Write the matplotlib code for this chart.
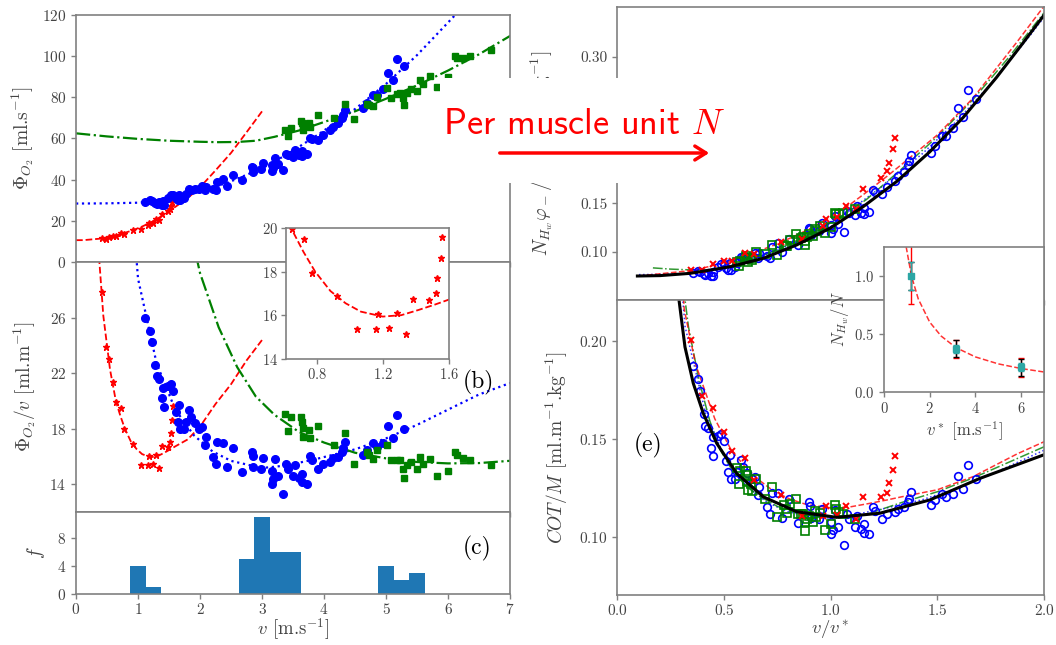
import numpy as np
import matplotlib
matplotlib.use("Agg")
import matplotlib.pyplot as plt
from matplotlib.patches import Rectangle, FancyArrowPatch

plt.rcParams.update({
    "font.family": "serif",
    "font.serif": ["cmr10"],
    "mathtext.fontset": "cm",
    "axes.formatter.use_mathtext": True,
    "axes.unicode_minus": False,
})

# ---------------- data ----------------
# measured points, cost per distance Phi_O2/v [ml.m-1] against speed v [m.s-1]
red_v = np.array([0.414, 0.478, 0.538, 0.602, 0.644, 0.718, 0.767, 0.921, 1.04, 1.157,
                  1.171, 1.238, 1.286, 1.34, 1.383, 1.481, 1.518, 1.526, 1.551, 1.559])
red_cot = np.array([27.86, 23.88, 23.0, 21.33, 19.95, 19.51, 17.95, 16.87, 15.39, 15.39,
                    16.06, 15.44, 16.09, 15.14, 16.73, 16.70, 17.02, 17.70, 18.64, 19.60])

blue_v = np.array([1.113, 1.194, 1.221, 1.274, 1.301, 1.344, 1.409, 1.382, 1.419, 1.489,
                   1.527, 1.570, 1.608, 1.661, 1.640, 1.677, 1.742, 1.774, 1.823, 1.855,
                   1.919, 1.984, 2.027, 2.097, 2.075, 2.215, 2.253, 2.279, 2.376, 2.430,
                   2.537, 2.672, 2.834, 2.850, 2.860, 2.984, 3.021, 3.156, 3.210, 3.156,
                   3.183, 3.263, 3.344, 3.387, 3.425, 3.537, 3.505, 3.597, 3.640, 3.721,
                   3.640, 3.774, 3.801, 3.909, 3.978, 4.097, 4.150, 4.231, 4.285, 4.339,
                   4.312, 4.634, 4.688, 4.796, 4.850, 4.957, 5.027, 5.108, 5.183, 5.296])
blue_cot = np.array([25.98, 25.06, 24.24, 22.60, 21.76, 21.59, 20.96, 20.20, 19.59, 21.04,
                     21.20, 20.68, 19.23, 19.71, 18.50, 17.98, 17.98, 18.50, 19.35, 18.87,
                     18.39, 17.98, 18.14, 17.42, 16.82, 15.97, 15.49, 17.01, 16.99, 15.25,
                     16.58, 14.89, 16.34, 16.05, 15.25, 15.13, 15.86, 14.94, 15.81, 14.05,
                     14.36, 14.60, 13.33, 15.49, 15.13, 15.37, 14.60, 14.46, 14.77, 14.05,
                     14.17, 16.02, 15.74, 15.13, 15.49, 15.61, 15.86, 15.97, 16.34, 17.06,
                     16.58, 16.14, 16.46, 16.94, 16.70, 16.94, 18.22, 17.30, 18.99, 17.98])

green_v = np.array([3.371, 3.462, 3.629, 3.640, 3.656, 3.425, 3.667, 3.774, 3.763, 3.909,
                    4.166, 4.339, 4.484, 4.688, 4.731, 4.785, 4.860, 5.011, 5.075, 5.172,
                    5.226, 5.269, 5.290, 5.344, 5.398, 5.505, 5.548, 5.592, 5.710, 5.828,
                    6.005, 6.113, 6.150, 6.247, 6.355, 6.688])
green_cot = np.array([19.04, 18.82, 18.82, 18.50, 18.07, 17.85, 17.42, 17.35, 17.90, 18.22,
                      16.82, 17.66, 15.49, 16.34, 16.10, 15.81, 16.46, 16.82, 15.74, 15.74,
                      15.74, 15.13, 14.46, 15.37, 15.61, 15.13, 15.97, 15.49, 15.81, 14.60,
                      14.97, 16.34, 16.10, 15.86, 15.74, 15.37])

# fitted curves, oxygen uptake Phi_O2 [ml.s-1] against v
red_fit_v = np.array([0.0, 0.12, 0.376, 0.44, 0.548, 0.644, 0.716, 0.787, 0.88, 0.972, 1.065,
                      1.198, 1.31, 1.413, 1.516, 1.602, 1.8, 2.0, 2.25, 2.5, 2.75, 3.02])
red_fit_phi = np.array([10.6, 10.62, 11.3, 11.5, 12.2, 12.85, 13.54, 14.17, 15.06, 16.09, 17.22,
                        19.10, 20.97, 22.95, 25.01, 26.8, 31.0, 36.3, 44.5, 53.0, 63.0, 74.0])
blue_fit_v = np.array([0.0, 0.32, 0.5, 1.0, 1.3, 1.6, 1.9, 2.2, 2.5, 3.0, 3.4, 3.9,
                       4.5, 5.0, 5.5, 6.1, 6.5, 7.0])
blue_fit_phi = np.array([28.4, 28.45, 28.5, 28.8, 29.5, 31.0, 33.3, 36.0, 39.2, 45.5, 52.2, 61.8,
                         74.3, 86.5, 100.5, 119.5, 133.0, 149.0])
green_fit_v = np.array([0.0, 0.5, 1.0, 1.5, 2.0, 2.3, 2.6, 2.9, 3.2, 3.6, 4.0, 4.5, 5.0,
                        5.5, 6.0, 6.5, 7.0, 8.0, 9.0, 10.0, 11.0, 12.0])
green_fit_phi = np.array([62.5, 61.0, 59.8, 58.9, 58.4, 58.2, 58.3, 58.9, 60.8, 63.9, 68.0, 73.2,
                          79.3, 85.8, 93.0, 100.9, 109.8, 132.4, 155.9, 183.1, 213.8, 246.7])

# histogram (c)
hist_left = [0.875, 1.125, 2.625, 2.875, 3.125, 3.375, 4.875, 5.125, 5.375]
hist_count = [4, 1, 5, 11, 6, 6, 4, 2, 3]

# per-muscle-unit scaling: optimal speed v*, factor for COT/M, factor for N phi/l
vstar = {"red": 1.2, "blue": 3.15, "green": 6.0}
k_cot = {"red": 0.0072, "blue": 0.0072, "green": 0.0071}
k_top = {"red": 0.0071, "blue": 0.0027, "green": 0.0014}

# master curve (black) in the two right panels
master_top_x = [0.094, 0.20, 0.34, 0.528, 0.684, 0.84, 0.996, 1.152, 1.308, 1.465, 1.621, 1.777, 1.9, 2.0]
master_top_y = [0.0754, 0.0758, 0.0781, 0.0849, 0.0935, 0.1072, 0.1243, 0.1465, 0.1721, 0.2029,
                0.238, 0.279, 0.314, 0.343]
master_cot_x = [0.275, 0.289, 0.317, 0.356, 0.403, 0.466, 0.559, 0.684, 0.84, 1.028, 1.23, 1.465, 1.699, 1.995]
master_cot_y = [0.233, 0.221, 0.197, 0.1784, 0.163, 0.1477, 0.1324, 0.1204, 0.1128, 0.1099, 0.112,
                0.1188, 0.1298, 0.1417]

# inset: N_Hw/N against v*
ins_vstar = [1.2, 3.15, 6.0]
ins_ratio = [1.0, 0.37, 0.21]
ins_err_red = [[0.24, 0.08, 0.085], [0.35, 0.08, 0.08]]
ins_err_black = [0.12, 0.075, 0.075]
ins_err_cyan = [0.12, 0.035, 0.035]
ins_fit_x = [0.97, 1.2, 1.5, 2.0, 2.5, 3.15, 4.0, 5.0, 6.0, 7.0]
ins_fit_y = [1.25, 1.0, 0.80, 0.60, 0.48, 0.38, 0.30, 0.24, 0.20, 0.17]

# ---------------- figure ----------------
spine_c = "#808080"
text_c = "#444444"

fig = plt.figure(figsize=(10.56, 6.45), dpi=100)
ax_a = fig.add_axes([0.0720, 0.5938, 0.4110, 0.3830])
ax_b = fig.add_axes([0.0720, 0.2062, 0.4110, 0.3876])
ax_c = fig.add_axes([0.0720, 0.0791, 0.4110, 0.1271])
ax_in = fig.add_axes([0.2708, 0.4434, 0.1544, 0.2031])
ax_d = fig.add_axes([0.5846, 0.5349, 0.4041, 0.4543])
ax_e = fig.add_axes([0.5846, 0.0775, 0.4041, 0.4574])
ax_in2 = fig.add_axes([0.8371, 0.3927, 0.1515, 0.2248])


def style(ax, size=11):
    for s in ax.spines.values():
        s.set_color(spine_c)
        s.set_linewidth(1.2)
    ax.tick_params(colors=spine_c, labelcolor=text_c, labelsize=size, length=3.5, width=1)


for ax in (ax_a, ax_b, ax_c, ax_d, ax_e):
    style(ax)
style(ax_in, 10.5)
style(ax_in2, 10.5)

colors = {"red": "red", "blue": "blue", "green": "green"}
fits = {"red": (red_fit_v, red_fit_phi, "--", 1.3),
        "blue": (blue_fit_v, blue_fit_phi, ":", 1.6),
        "green": (green_fit_v, green_fit_phi, "-.", 1.6)}
pts = {"red": (red_v, red_cot), "blue": (blue_v, blue_cot), "green": (green_v, green_cot)}
left_mk = {"red": dict(marker="*", ms=5), "blue": dict(marker="o", ms=5.5),
           "green": dict(marker="s", ms=4.5)}

# (a) Phi_O2 vs v and (b) Phi_O2/v vs v
for name in ("red", "blue", "green"):
    fv, fphi, ls, lw = fits[name]
    ax_a.plot(fv, fphi, ls, color=colors[name], lw=lw)
    pos = fv > 0
    ax_b.plot(fv[pos], fphi[pos] / fv[pos], ls, color=colors[name], lw=lw)
for name in ("red", "blue", "green"):
    v, c = pts[name]
    ax_a.plot(v, c * v, ls="none", color=colors[name], mec=colors[name], **left_mk[name])
    ax_b.plot(v, c, ls="none", color=colors[name], mec=colors[name], **left_mk[name])

ax_a.set_xlim(0, 7)
ax_a.set_ylim(0, 120)
ax_a.set_yticks(range(0, 121, 20))
ax_a.tick_params(labelbottom=False)
ax_a.set_ylabel(r"$\Phi_{O_2}$ [ml.s$^{-1}$]", fontsize=14, color=text_c)
ax_a.yaxis.set_label_coords(-0.093, 0.5)

ax_b.set_xlim(0, 7)
ax_b.set_ylim(12, 30)
ax_b.set_yticks([14, 18, 22, 26])
ax_b.tick_params(labelbottom=False)
ax_b.set_ylabel(r"$\Phi_{O_2}/v$ [ml.m$^{-1}$]", fontsize=14, color=text_c)
ax_b.yaxis.set_label_coords(-0.088, 0.5)
ax_b.text(0.928, 0.52, "(b)", transform=ax_b.transAxes, fontsize=17, ha="center", va="center")

# inset of (b)
ax_in.plot(red_fit_v, red_fit_phi / np.where(red_fit_v > 0, red_fit_v, np.nan), "--", color="red", lw=1.3)
ax_in.plot(red_v, red_cot, "*", color="red", ms=5)
ax_in.set_xlim(0.61, 1.6)
ax_in.set_ylim(14, 20)
ax_in.set_xticks([0.8, 1.2, 1.6])
ax_in.set_yticks([14, 16, 18, 20])
ax_in.tick_params(pad=2)

# (c) histogram
ax_c.bar(hist_left, hist_count, width=0.25, align="edge", color="#1f77b4", lw=0)
ax_c.set_xlim(0, 7)
ax_c.set_ylim(0, 11.7)
ax_c.set_yticks([0, 4, 8])
ax_c.set_xticks(range(8))
ax_c.tick_params(axis="x", pad=2)
ax_c.set_ylabel(r"$f$", fontsize=14, color=text_c)
ax_c.yaxis.set_label_coords(-0.068, 0.5)
ax_c.set_xlabel(r"$v$ [m.s$^{-1}$]", fontsize=13.5, color=text_c, labelpad=0)
ax_c.text(0.925, 0.55, "(c)", transform=ax_c.transAxes, fontsize=17, ha="center", va="center")

# (d) and (e): per muscle unit
right_mk = {"red": dict(marker="x", ms=5, mew=1.4),
            "blue": dict(marker="o", ms=5.5, mfc="none", mew=1.2),
            "green": dict(marker="s", ms=5.5, mfc="none", mew=1.2)}
for name in ("blue", "green", "red"):
    fv, fphi, ls, lw = fits[name]
    x = fv / vstar[name]
    keep = x >= 0.09
    ax_d.plot(x[keep], k_top[name] * fphi[keep], ls, color=colors[name], lw=1.1, alpha=0.8)
    ax_e.plot(x[keep], k_cot[name] * fphi[keep] / fv[keep], ls, color=colors[name], lw=1.1, alpha=0.8)
for name in ("blue", "green", "red"):
    v, c = pts[name]
    ax_d.plot(v / vstar[name], k_top[name] * c * v, ls="none", color=colors[name], **right_mk[name])
    ax_e.plot(v / vstar[name], k_cot[name] * c, ls="none", color=colors[name], **right_mk[name])
ax_d.plot(master_top_x, master_top_y, "-", color="black", lw=2.2)
ax_e.plot(master_cot_x, master_cot_y, "-", color="black", lw=2.2)

ax_d.set_xlim(0, 2.0)
ax_d.set_ylim(0.0508, 0.3513)
ax_d.set_yticks([0.10, 0.15, 0.20, 0.25, 0.30])
ax_d.set_yticklabels(["0.10", "0.15", "", "", "0.30"])
ax_d.set_xticks([0.0, 0.5, 1.0, 1.5, 2.0])
ax_d.tick_params(labelbottom=False)
ax_d.set_ylabel(r"$N_{H_w}\varphi_-/l$ [ml.m$^{-1}$.kg$^{-1}$]", fontsize=14, color=text_c)
ax_d.yaxis.set_label_coords(-0.145, 0.5)

ax_e.set_xlim(0, 2.0)
ax_e.set_ylim(0.0702, 0.221)
ax_e.set_yticks([0.10, 0.15, 0.20])
ax_e.set_xticks([0.0, 0.5, 1.0, 1.5, 2.0])
ax_e.tick_params(axis="x", pad=2)
ax_e.set_ylabel(r"$COT/M$ [ml.m$^{-1}$.kg$^{-1}$]", fontsize=14, color=text_c)
ax_e.yaxis.set_label_coords(-0.11, 0.5)
ax_e.set_xlabel(r"$v/v^*$", fontsize=13.5, color=text_c, labelpad=0)
ax_e.text(0.072, 0.508, "(e)", transform=ax_e.transAxes, fontsize=17, ha="center", va="center")

# inset of (e)
ax_in2.plot(ins_fit_x, ins_fit_y, "--", color="red", lw=1.1, alpha=0.8)
ax_in2.errorbar(ins_vstar, ins_ratio, yerr=ins_err_red, fmt="none", ecolor="red", capsize=2.5, lw=1)
ax_in2.errorbar(ins_vstar, ins_ratio, yerr=ins_err_black, fmt="none", ecolor="black", capsize=2, lw=1)
ax_in2.errorbar(ins_vstar, ins_ratio, yerr=ins_err_cyan, fmt="s", color="#2ca6a4", ms=4,
                ecolor="#2ca6a4", capsize=2, lw=1)
ax_in2.plot(ins_vstar, ins_ratio, "s", color="black", ms=2.5)
ax_in2.set_xlim(0, 7)
ax_in2.set_ylim(0, 1.25)
ax_in2.set_xticks([0, 2, 4, 6])
ax_in2.set_yticks([0.0, 0.5, 1.0])
ax_in2.set_ylabel(r"$N_{H_w}/N$", fontsize=12, color=text_c, labelpad=2)
ax_in2.set_xlabel(r"$v^*$ [m.s$^{-1}$]", fontsize=12, color=text_c, labelpad=2)

# "per muscle unit" banner drawn over both halves
fig.add_artist(Rectangle((440 / 1056, 1 - 183 / 645), 295 / 1056, 105 / 645,
                         transform=fig.transFigure, facecolor="white", edgecolor="none", zorder=10))
fig.text(443 / 1056, 1 - 125 / 645, r"Per muscle unit $N$", color="red", fontsize=26,
         family="cmss10", ha="left", va="center", zorder=11)
fig.add_artist(FancyArrowPatch((497 / 1056, 1 - 153 / 645), (712 / 1056, 1 - 153 / 645),
                               transform=fig.transFigure, arrowstyle="->,head_length=8,head_width=5",
                               color="red", lw=2.5, zorder=11))

fig.savefig("out.png", dpi=100)
